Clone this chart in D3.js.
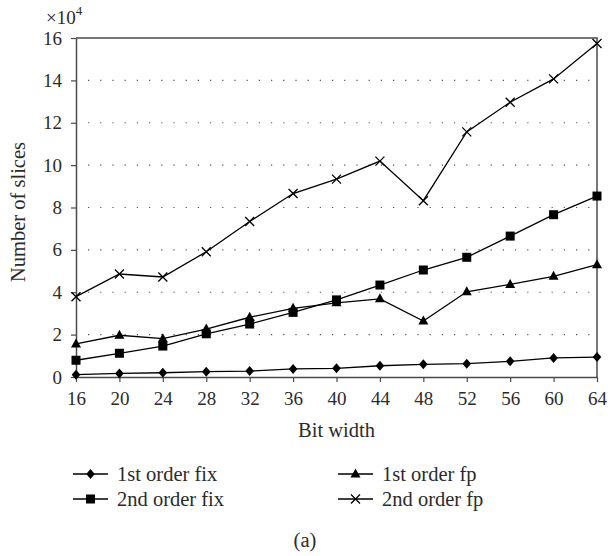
<!DOCTYPE html>
<html>
<head>
<meta charset="utf-8">
<script src="https://cdn.jsdelivr.net/npm/d3@7"></script>
<style>
  html, body { margin: 0; padding: 0; background: #fff; }
  svg { display: block; }
  text { font-family: "Liberation Serif", "DejaVu Serif", serif; fill: #2b2b2b; }
</style>
</head>
<body>
<div id="chart"></div>
<script>
// Bit widths on the x axis
const bitWidths = [16, 20, 24, 28, 32, 36, 40, 44, 48, 52, 56, 60, 64];
// Slice counts, in units of 10^4
const firstOrderFix  = [0.11, 0.17, 0.20, 0.25, 0.28, 0.38, 0.41, 0.53, 0.60, 0.63, 0.74, 0.90, 0.94];
const firstOrderFp   = [1.56, 1.97, 1.81, 2.26, 2.82, 3.24, 3.50, 3.69, 2.64, 4.02, 4.37, 4.75, 5.30];
const secondOrderFix = [0.79, 1.12, 1.46, 2.04, 2.50, 3.05, 3.64, 4.34, 5.05, 5.65, 6.65, 7.66, 8.54];
const secondOrderFp  = [3.79, 4.86, 4.72, 5.91, 7.34, 8.66, 9.34, 10.19, 8.32, 11.57, 12.97, 14.07, 15.74];
const yTicks = [0, 2, 4, 6, 8, 10, 12, 14, 16];
const seriesNames = ["1st order fix", "1st order fp", "2nd order fix", "2nd order fp"];
const seriesMarkers = ["diamond", "triangle", "square", "cross"];

const series = [
  { name: seriesNames[0], values: firstOrderFix,  marker: seriesMarkers[0] },
  { name: seriesNames[1], values: firstOrderFp,   marker: seriesMarkers[1] },
  { name: seriesNames[2], values: secondOrderFix, marker: seriesMarkers[2] },
  { name: seriesNames[3], values: secondOrderFp,  marker: seriesMarkers[3] }
];

const W = 608, H = 556;
const m = { left: 76, right: 11, top: 38, bottom: 179 };

const svg = d3.select("#chart").append("svg").attr("width", W).attr("height", H);

const x = d3.scaleLinear().domain([16, 64]).range([m.left, W - m.right]);
const y = d3.scaleLinear().domain([0, 16]).range([H - m.bottom, m.top]);

const axisColor = "#4a4a4a";
const tickFont = "19px";
const labelFont = "20.5px";

// dotted horizontal gridlines
svg.append("g").selectAll("line")
  .data(yTicks.filter(t => t > 0 && t < 16))
  .join("line")
  .attr("x1", x(16) + 12).attr("x2", x(64) - 4)
  .attr("y1", d => y(d)).attr("y2", d => y(d))
  .attr("stroke", "#555").attr("stroke-width", 1.2)
  .attr("stroke-dasharray", "1.2,11");

// axes
const xAxis = svg.append("g")
  .attr("transform", `translate(0,${y(0)})`)
  .call(d3.axisBottom(x).tickValues(bitWidths).tickSize(5).tickSizeOuter(0).tickPadding(10));
const yAxis = svg.append("g")
  .attr("transform", `translate(${x(16)},0)`)
  .call(d3.axisLeft(y).tickValues(yTicks).tickSize(5).tickSizeOuter(0).tickPadding(9));

[xAxis, yAxis].forEach(g => {
  g.select(".domain").attr("stroke", axisColor).attr("stroke-width", 1.5);
  g.selectAll(".tick line").attr("stroke", axisColor).attr("stroke-width", 1.2);
  g.selectAll(".tick text")
    .attr("fill", "#2b2b2b")
    .style("font-family", '"Liberation Serif", "DejaVu Serif", serif')
    .style("font-size", tickFont);
});

// frame: top and right edges
svg.append("path")
  .attr("d", `M${x(16)},${y(16)}H${x(64)}V${y(0)}`)
  .attr("fill", "none").attr("stroke", axisColor).attr("stroke-width", 1.5);

// exponent label
const expo = svg.append("text").attr("x", 46).attr("y", 24).style("font-size", tickFont);
expo.append("tspan").text("×10");
expo.append("tspan").attr("dy", -9).style("font-size", "13px").text("4");

// axis titles
svg.append("text")
  .attr("transform", `translate(25,212) rotate(-90)`)
  .attr("text-anchor", "middle").style("font-size", labelFont)
  .text("Number of slices");
svg.append("text")
  .attr("x", (x(16) + x(64)) / 2).attr("y", 437)
  .attr("text-anchor", "middle").style("font-size", labelFont)
  .text("Bit width");

// marker drawing
function drawMarker(g, type, cx, cy) {
  if (type === "diamond") {
    g.append("path").attr("d", `M${cx},${cy - 5}L${cx + 4.3},${cy}L${cx},${cy + 5}L${cx - 4.3},${cy}Z`)
      .attr("fill", "#000");
  } else if (type === "triangle") {
    g.append("path").attr("d", `M${cx},${cy - 5.5}L${cx + 5},${cy + 3.5}L${cx - 5},${cy + 3.5}Z`)
      .attr("fill", "#000");
  } else if (type === "square") {
    g.append("rect").attr("x", cx - 4.5).attr("y", cy - 4.5).attr("width", 9).attr("height", 9)
      .attr("fill", "#000");
  } else if (type === "cross") {
    g.append("path").attr("d", `M${cx - 4.5},${cy - 4.5}L${cx + 4.5},${cy + 4.5}M${cx - 4.5},${cy + 4.5}L${cx + 4.5},${cy - 4.5}`)
      .attr("stroke", "#000").attr("stroke-width", 1.3).attr("fill", "none");
  }
}

const line = d3.line().x((d, i) => x(bitWidths[i])).y(d => y(d));

series.forEach(s => {
  const g = svg.append("g");
  g.append("path").datum(s.values).attr("d", line)
    .attr("fill", "none").attr("stroke", "#000").attr("stroke-width", 1.3);
  s.values.forEach((v, i) => drawMarker(g, s.marker, x(bitWidths[i]), y(v)));
});

// legend
const legendPos = [
  { lx: 73, ly: 474 }, { lx: 338, ly: 474 },
  { lx: 73, ly: 499 }, { lx: 338, ly: 499 }
];
series.forEach((s, i) => {
  const p = legendPos[i];
  const g = svg.append("g");
  g.append("line").attr("x1", p.lx).attr("x2", p.lx + 35).attr("y1", p.ly).attr("y2", p.ly)
    .attr("stroke", "#000").attr("stroke-width", 1.3);
  drawMarker(g, s.marker, p.lx + 17.5, p.ly);
  g.append("text").attr("x", p.lx + 44).attr("y", p.ly + 7).style("font-size", labelFont).text(s.name);
});

// panel caption
svg.append("text").attr("x", 305).attr("y", 547).attr("text-anchor", "middle")
  .style("font-size", labelFont).text("(a)");
</script>
</body>
</html>
